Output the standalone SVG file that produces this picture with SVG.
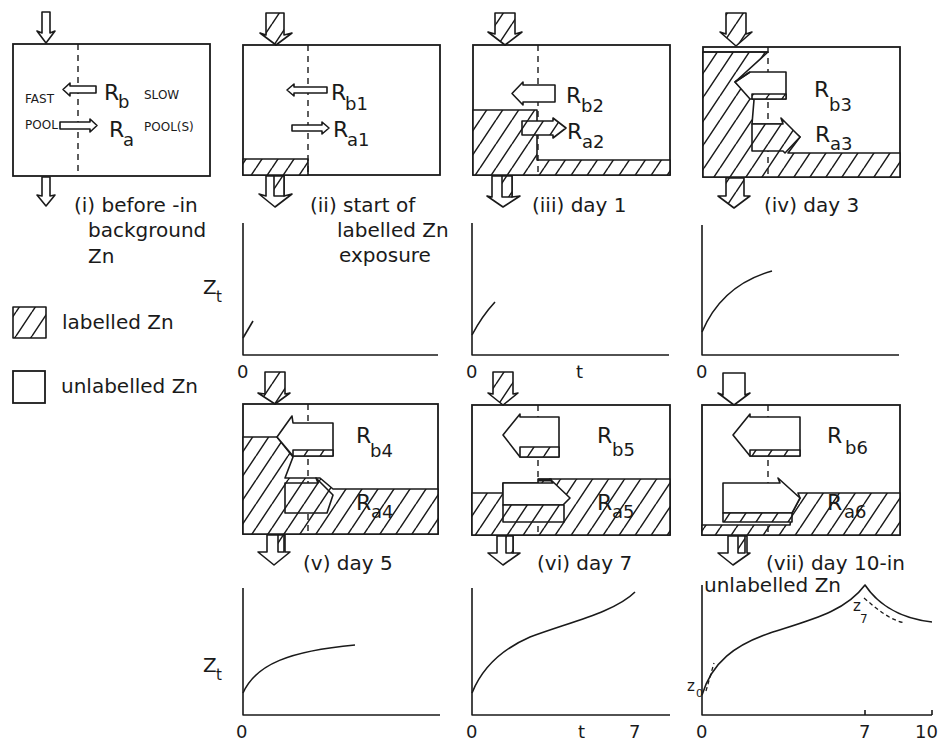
<svg xmlns="http://www.w3.org/2000/svg" width="940" height="741" viewBox="0 0 940 741">
<style>
.ln{fill:none;stroke:#1a1a1a;stroke-width:1.6;stroke-linejoin:round}
.bx{fill:#fff;stroke:#1a1a1a;stroke-width:1.8}
.wh{fill:#fff;stroke:#1a1a1a;stroke-width:1.6;stroke-linejoin:round}
.ht{fill:url(#h);stroke:#1a1a1a;stroke-width:1.6;stroke-linejoin:round}
.ds{fill:none;stroke:#1a1a1a;stroke-width:1.4;stroke-dasharray:6 5}
.dd{fill:none;stroke:#1a1a1a;stroke-width:1.3;stroke-dasharray:4 3}
text{font-family:"DejaVu Sans","Liberation Sans",sans-serif;fill:#1a1a1a}
.cap{font-size:20px}
.sm{font-size:12px}
.R{font-size:22px}
.sub{font-size:18px}
.ax{font-size:18px}
</style>
<defs>
<pattern id="h" patternUnits="userSpaceOnUse" width="16" height="24">
<rect width="16" height="24" fill="#fff"/>
<path d="M-16,24 L0,0 M0,24 L16,0 M16,24 L32,0" stroke="#1a1a1a" stroke-width="1.5"/>
</pattern>
</defs>
<rect width="940" height="741" fill="#fff"/>

<!-- Panel i -->
<g id="panel-i">
<rect class="bx" x="13" y="44" width="197" height="132"/>
<line class="ds" x1="78" y1="44" x2="78" y2="176"/>
<polygon class="wh" points="96,86 96,93 70,93 70,96 63,89.5 70,83 70,86"/>
<polygon class="wh" points="60,122 90,122 90,119 97,125.5 90,132 90,129 60,129"/>
<text class="sm" x="25" y="103">FAST</text>
<text class="sm" x="25" y="129">POOL</text>
<text class="sm" x="144" y="99">SLOW</text>
<text class="sm" x="144" y="131">POOL(S)</text>
<text class="R" x="104" y="100">R</text><text class="sub" x="118" y="108">b</text>
<text class="R" x="109" y="137">R</text><text class="sub" x="123" y="146">a</text>
<text class="cap" x="74" y="212">(i) before -in</text>
<text class="cap" x="88" y="237">background</text>
<text class="cap" x="88" y="263">Zn</text>
</g>

<!-- Panel ii -->
<g id="panel-ii">
<rect class="bx" x="243" y="45" width="197" height="130"/>
<rect class="ht" x="243" y="159" width="65" height="16"/>
<line class="ds" x1="308" y1="45" x2="308" y2="175"/>
<polygon class="wh" points="327,87 327,93 294,93 294,96 287,90 294,84 294,87"/>
<polygon class="wh" points="292,125 322,125 322,122 329,128 322,134 322,131 292,131"/>
<text class="R" x="331" y="100">R</text><text class="sub" x="345" y="110">b1</text>
<text class="R" x="333" y="137">R</text><text class="sub" x="347" y="146">a1</text>
<text class="cap" x="310" y="212">(ii) start of</text>
<text class="cap" x="337" y="237">labelled Zn</text>
<text class="cap" x="339" y="262">exposure</text>
</g>

<!-- Panel iii -->
<g id="panel-iii">
<rect class="bx" x="473" y="45" width="197" height="130"/>
<polygon class="ht" points="473,110 537,110 537,160 670,160 670,175 473,175"/>
<line class="ds" x1="538" y1="45" x2="538" y2="175"/>
<polygon class="wh" points="555,85 555,102 523,102 523,105 512,93.5 523,82 523,85"/>
<polygon class="ht" points="522,121 553,121 553,118 566,128 553,138 553,135 522,135"/>
<text class="R" x="566" y="103">R</text><text class="sub" x="581" y="112">b2</text>
<text class="R" x="567" y="139">R</text><text class="sub" x="582" y="148">a2</text>
<text class="cap" x="532" y="212">(iii) day 1</text>
</g>

<!-- Panel iv -->
<g id="panel-iv">
<rect class="bx" x="703" y="47" width="197" height="130"/>
<polygon class="ht" points="703,52 768,52 735,82 754,100 752,124 783,124 800,137 788,153 900,153 900,177 703,177"/>
<line class="ln" x1="703" y1="52" x2="768" y2="52"/>
<line class="ds" x1="768" y1="47" x2="768" y2="177"/>
<polygon class="wh" points="750,72 786,72 786,99 750,99 735,82"/>
<rect class="ht" x="752" y="94" width="34" height="5"/>
<line class="ln" x1="750" y1="72" x2="735" y2="82"/>
<polygon class="ht" points="752,124 783,124 781,118 800,137 785,153 783,151 752,151"/>
<text class="R" x="814" y="97">R</text><text class="sub" x="829" y="111">b3</text>
<text class="R" x="815" y="142">R</text><text class="sub" x="830" y="150">a3</text>
<text class="cap" x="764" y="212">(iv) day 3</text>
</g>

<!-- Panel v -->
<g id="panel-v">
<rect class="bx" x="243" y="404" width="195" height="130"/>
<polygon class="ht" points="243,437 277,437 293,457 285,478 320,478 333,489 438,489 438,534 243,534"/>
<line class="ds" x1="308" y1="404" x2="308" y2="534"/>
<polygon class="wh" points="292,416 293,423 333,423 333,456 293,456 277,437"/>
<rect class="ht" x="293" y="450" width="40" height="6"/>
<polygon class="ht" points="285,483 318,483 316,478 333,495 327,513 285,513"/>
<text class="R" x="356" y="443">R</text><text class="sub" x="370" y="457">b4</text>
<text class="R" x="356" y="510">R</text><text class="sub" x="371" y="518">a4</text>
<text class="cap" x="303" y="570">(v) day 5</text>
</g>

<!-- Panel vi -->
<g id="panel-vi">
<rect class="bx" x="472" y="405" width="198" height="130"/>
<polygon class="ht" points="472,493 503,493 503,483 538,483 538,479 670,479 670,535 472,535"/>
<line x1="538" y1="480" x2="552" y2="480" stroke="#1a1a1a" stroke-width="3"/>
<line class="ds" x1="538" y1="405" x2="538" y2="535"/>
<polygon class="wh" points="520,414 520,417 559,417 559,457 520,457 503,435"/>
<rect class="ht" x="520" y="447" width="39" height="10"/>
<polygon class="wh" points="503,483 553,483 550,479 570,498 563,505 503,505"/>
<rect class="ht" x="503" y="505" width="61" height="17"/>
<text class="R" x="597" y="443">R</text><text class="sub" x="612" y="456">b5</text>
<text class="R" x="597" y="510">R</text><text class="sub" x="612" y="518">a5</text>
<text class="cap" x="537" y="570">(vi) day 7</text>
</g>

<!-- Panel vii -->
<g id="panel-vii">
<rect class="bx" x="702" y="405" width="198" height="130"/>
<polygon class="ht" points="702,525 790,525 792,513 800,498 798,493 900,493 900,535 702,535"/>
<line class="ds" x1="768" y1="405" x2="768" y2="535"/>
<polygon class="wh" points="750,414 750,417 800,417 800,456 750,456 733,435"/>
<rect class="ht" x="750" y="450" width="50" height="6"/>
<polygon class="wh" points="723,483 780,483 778,478 800,498 792,513 723,513"/>
<rect class="ht" x="723" y="513" width="69" height="9"/>
<text class="R" x="827" y="443">R</text><text class="sub" x="845" y="454">b6</text>
<text class="R" x="827" y="510">R</text><text class="sub" x="844" y="518">a6</text>
<text class="cap" x="766" y="570">(vii) day 10-in</text>
<text class="cap" x="704" y="592">unlabelled Zn</text>
</g>

<!-- Flow arrows (in/out) -->
<g id="connectors">
<polygon class="wh" points="42,12 50,12 50,33 55,31 46,43 37,31 42,33"/>
<polygon class="wh" points="42,177 50,177 50,196 55,195 46,206 37,195 42,196"/>
<polygon class="ht" points="266,13 284,13 284,35 292,33 276,45 260,33 266,35"/>
<polygon class="wh" points="266,176 284,176 284,196 292,194 275,207 259,194 266,196"/>
<rect class="ht" x="274" y="176" width="10" height="20"/>
<polygon class="ht" points="495,13 515,13 515,34 522,32 505,45 488,32 495,34"/>
<polygon class="wh" points="492,176 512,176 512,197 520,196 503,207 487,196 492,197"/>
<rect class="ht" x="502" y="176" width="10" height="21"/>
<polygon class="ht" points="726,13 746,13 746,34 752,32 736,46 720,32 726,34"/>
<polygon class="ht" points="726,178 744,178 744,196 750,196 734,208 718,196 726,196"/>
<polygon class="ht" points="265,372 285,372 285,394 290,393 275,404 258,393 265,394"/>
<polygon class="ht" points="493,372 513,372 513,394 518,393 503,405 488,393 493,394"/>
<polygon class="wh" points="723,373 745,373 745,395 750,393 734,405 718,393 723,395"/>
<polygon class="wh" points="267,535 285,535 285,552 290,552 274,565 258,552 267,552"/>
<rect class="ht" x="278" y="535" width="6" height="17"/>
<polygon class="wh" points="497,536 513,536 513,553 520,553 503,565 488,553 497,553"/>
<rect class="ht" x="506" y="536" width="7" height="17"/>
<polygon class="wh" points="728,536 747,536 747,553 750,553 733,565 718,553 728,553"/>
<rect class="ht" x="738" y="536" width="7" height="17"/>
</g>

<!-- Legend -->
<g id="legend">
<rect class="ht" x="13" y="307" width="33" height="31"/>
<text class="cap" x="62" y="329">labelled Zn</text>
<rect class="bx" x="13" y="371" width="32" height="32"/>
<text class="cap" x="61" y="393">unlabelled Zn</text>
</g>

<!-- Graphs middle row -->
<g id="graph-ii">
<path class="ln" d="M243,223 V355 H438"/>
<path class="ln" d="M243,338 L253,321"/>
<text class="cap" x="203" y="294">Z</text><text class="sub" x="216" y="302" style="font-size:15px">t</text>
<text class="ax" x="237" y="378">0</text>
</g>
<g id="graph-iii">
<path class="ln" d="M472,223 V355 H669"/>
<path class="ln" d="M472,335 Q482,316 495,302"/>
<text class="ax" x="466" y="378">0</text>
<text class="ax" x="576" y="378">t</text>
</g>
<g id="graph-iv">
<path class="ln" d="M702,225 V355 H899"/>
<path class="ln" d="M702,332 Q722,285 772,271"/>
<text class="ax" x="696" y="378">0</text>
</g>

<!-- Graphs bottom row -->
<g id="graph-v">
<path class="ln" d="M243,588 V715 H440"/>
<path class="ln" d="M243,693 C256,664 290,651 355,645"/>
<text class="cap" x="203" y="672">Z</text><text class="sub" x="216" y="680" style="font-size:15px">t</text>
<text class="ax" x="236" y="738">0</text>
</g>
<g id="graph-vi">
<path class="ln" d="M472,588 V715 H670"/>
<path class="ln" d="M472,693 C482,668 500,650 530,637 C570,622 615,612 635,592"/>
<text class="ax" x="466" y="738">0</text>
<text class="ax" x="578" y="738">t</text>
<text class="ax" x="629" y="738">7</text>
</g>
<g id="graph-vii">
<path class="ln" d="M702,585 V715 H932 M865,715 V710 M932,715 V710"/>
<path class="ln" d="M702,695 C712,662 735,645 770,633 C810,620 845,612 865,585 C875,600 895,618 932,622"/>
<path class="dd" d="M706,691 L714,663"/>
<path class="dd" d="M864,598 C878,610 890,620 905,623"/>
<text x="687" y="691" style="font-size:15px">z</text><text x="696" y="697" style="font-size:11px">0</text>
<text x="853" y="611" style="font-size:15px">z</text><text x="860" y="623" style="font-size:12px">7</text>
<text class="ax" x="696" y="738">0</text>
<text class="ax" x="859" y="738">7</text>
<text class="ax" x="938" y="738" text-anchor="end">10</text>
</g>
</svg>
